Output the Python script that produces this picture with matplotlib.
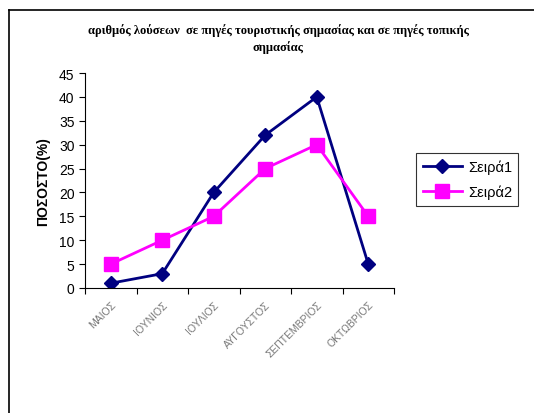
import numpy as np
import matplotlib
matplotlib.use("Agg")
import matplotlib.pyplot as plt
from matplotlib.lines import Line2D

months = ["ΜΑΙΟΣ", "ΙΟΥΝΙΟΣ", "ΙΟΥΛΙΟΣ", "ΑΥΓΟΥΣΤΟΣ", "ΣΕΠΤΕΜΒΡΙΟΣ", "ΟΚΤΩΒΡΙΟΣ"]
seira1 = [1, 3, 20, 32, 40, 5]
seira2 = [5, 10, 15, 25, 30, 15]
title = "αριθμός λούσεων  σε πηγές τουριστικής σημασίας και σε πηγές τοπικής\nσημασίας"

W, H = 534, 414
fig = plt.figure(figsize=(W / 100, H / 100), dpi=100)
fig.patch.set_facecolor("white")

# outer chart border (cropped at right and bottom like the original)
fig.add_artist(Line2D([9 / W, 9 / W], [0, 1 - 11 / H], color="black", lw=1.2))
fig.add_artist(Line2D([9 / W, 1], [1 - 11 / H, 1 - 11 / H], color="black", lw=1.2))

ax = fig.add_axes([85 / W, 1 - 289 / H, (394 - 85) / W, (289 - 74) / H])
x = np.arange(len(months))

ax.plot(x, seira1, color="#000080", lw=2, marker="D", markersize=7.5, label="Σειρά1")
ax.plot(x, seira2, color="#FF00FF", lw=2, marker="s", markersize=9.5, label="Σειρά2")

ax.set_xlim(-0.5, len(months) - 0.5)
ax.set_ylim(0, 45)
ax.set_yticks(range(0, 46, 5))
ax.set_xticks(np.arange(-0.5, len(months), 1.0), minor=False)
ax.set_xticklabels([])
ax.set_xticks(x, minor=True)
ax.set_xticklabels(months, minor=True, rotation=45, ha="right", va="top",
                   rotation_mode="anchor", color="#777777", fontsize=7.5,
                   family="Liberation Sans")
ax.tick_params(axis="x", which="minor", length=0, pad=8)
ax.tick_params(axis="x", which="major", length=4, direction="out")
ax.tick_params(axis="y", length=4, direction="out", labelsize=10)
for lab in ax.get_yticklabels():
    lab.set_family("Liberation Sans")

for s in ["top", "right"]:
    ax.spines[s].set_visible(False)
for s in ["left", "bottom"]:
    ax.spines[s].set_linewidth(0.8)

ax.set_ylabel("ΠΟΣΟΣΤΟ(%)", fontsize=10, fontweight="bold", family="Liberation Sans", labelpad=6)

fig.text(278 / W, 1 - 39 / H, title, ha="center", va="center", fontsize=9,
         fontweight="bold", family="Liberation Serif", linespacing=1.5)

leg = ax.legend(loc="upper left", bbox_to_anchor=(416 / W, 1 - 154 / H),
                bbox_transform=fig.transFigure, frameon=True, fancybox=False,
                edgecolor="black", prop={"family": "Liberation Sans", "size": 10.5},
                handlelength=2.7, borderpad=0.45, labelspacing=0.75, handletextpad=0.4,
                borderaxespad=0)
leg.get_frame().set_linewidth(0.8)

fig.savefig("out.png", dpi=100, facecolor="white")
